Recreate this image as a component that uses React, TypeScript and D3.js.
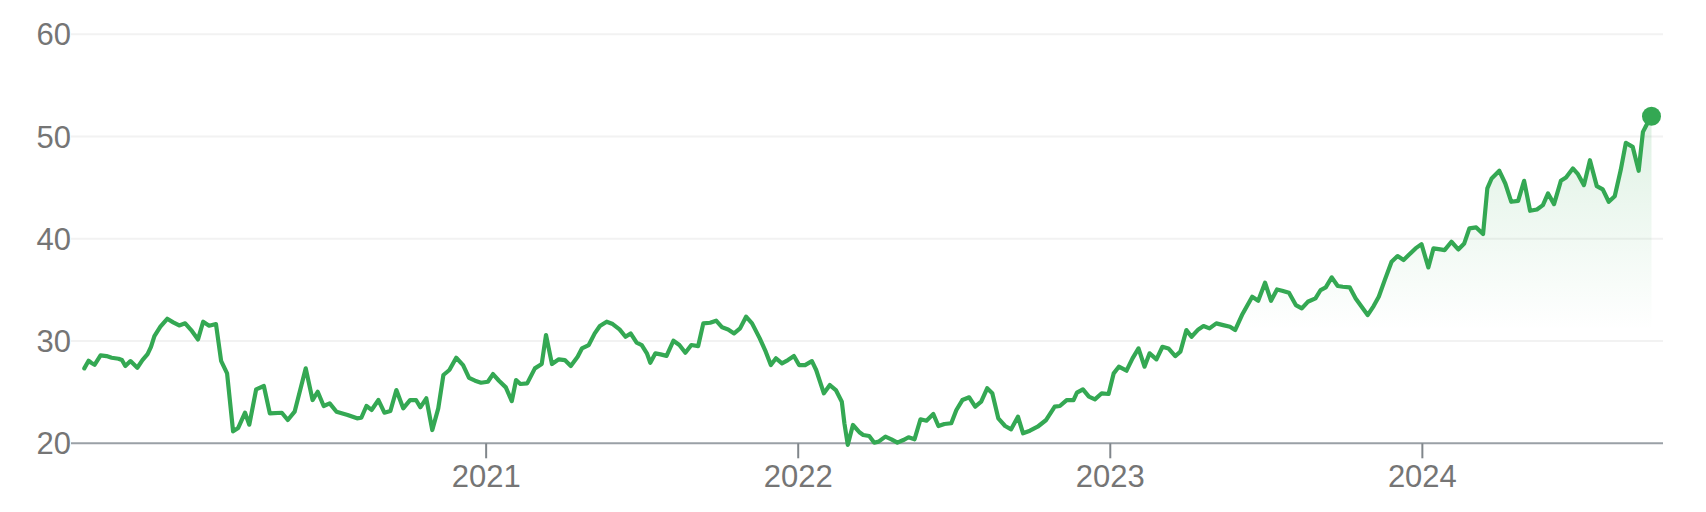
import React from "react";
import * as d3 from "d3";

const dates: string[] = [
  "2019-09-19","2019-09-24","2019-09-27","2019-10-01","2019-10-08","2019-10-15","2019-10-21","2019-10-29","2019-11-02","2019-11-06",
  "2019-11-12","2019-11-20","2019-11-26","2019-12-02","2019-12-06","2019-12-10","2019-12-17","2019-12-25","2020-01-01","2020-01-08",
  "2020-01-15","2020-01-22","2020-01-30","2020-02-05","2020-02-12","2020-02-20","2020-02-26","2020-03-04","2020-03-11","2020-03-17",
  "2020-03-25","2020-03-30","2020-04-07","2020-04-16","2020-04-23","2020-05-07","2020-05-14","2020-05-22","2020-06-04","2020-06-12",
  "2020-06-18","2020-06-25","2020-07-02","2020-07-10","2020-07-23","2020-08-03","2020-08-08","2020-08-14","2020-08-20","2020-08-28",
  "2020-09-04","2020-09-11","2020-09-18","2020-09-26","2020-10-04","2020-10-11","2020-10-16","2020-10-23","2020-10-30","2020-11-06",
  "2020-11-12","2020-11-19","2020-11-27","2020-12-05","2020-12-12","2020-12-19","2020-12-26","2021-01-03","2021-01-09","2021-01-16",
  "2021-01-24","2021-01-31","2021-02-05","2021-02-10","2021-02-18","2021-02-27","2021-03-07","2021-03-12","2021-03-19","2021-03-27",
  "2021-04-03","2021-04-10","2021-04-18","2021-04-23","2021-05-01","2021-05-08","2021-05-14","2021-05-22","2021-05-29","2021-06-06",
  "2021-06-13","2021-06-19","2021-06-26","2021-07-02","2021-07-08","2021-07-12","2021-07-18","2021-07-24","2021-07-31","2021-08-08",
  "2021-08-15","2021-08-22","2021-08-29","2021-09-06","2021-09-12","2021-09-20","2021-09-27","2021-10-04","2021-10-11","2021-10-18",
  "2021-10-25","2021-11-01","2021-11-08","2021-11-17","2021-11-24","2021-11-30","2021-12-06","2021-12-13","2021-12-20","2021-12-27",
  "2022-01-02","2022-01-09","2022-01-17","2022-01-22","2022-01-31","2022-02-07","2022-02-14","2022-02-21","2022-02-24","2022-02-28",
  "2022-03-06","2022-03-14","2022-03-18","2022-03-25","2022-03-31","2022-04-05","2022-04-13","2022-04-20","2022-04-27","2022-05-04",
  "2022-05-10","2022-05-17","2022-05-24","2022-05-31","2022-06-08","2022-06-14","2022-06-21","2022-06-29","2022-07-05","2022-07-12",
  "2022-07-20","2022-07-27","2022-08-03","2022-08-10","2022-08-16","2022-08-23","2022-08-31","2022-09-07","2022-09-15","2022-09-21",
  "2022-09-29","2022-10-08","2022-10-18","2022-10-28","2022-11-03","2022-11-11","2022-11-19","2022-11-23","2022-11-30","2022-12-07",
  "2022-12-14","2022-12-22","2022-12-30","2023-01-05","2023-01-11","2023-01-20","2023-01-27","2023-02-03","2023-02-10","2023-02-16",
  "2023-02-24","2023-03-03","2023-03-10","2023-03-18","2023-03-24","2023-03-31","2023-04-06","2023-04-14","2023-04-20","2023-04-27",
  "2023-05-05","2023-05-13","2023-05-21","2023-05-27","2023-06-04","2023-06-16","2023-06-23","2023-07-01","2023-07-08","2023-07-15",
  "2023-07-21","2023-07-29","2023-08-06","2023-08-13","2023-08-20","2023-08-29","2023-09-04","2023-09-10","2023-09-17","2023-09-24",
  "2023-09-30","2023-10-08","2023-10-15","2023-10-22","2023-10-29","2023-11-05","2023-11-11","2023-11-18","2023-11-26","2023-12-03",
  "2023-12-10","2023-12-16","2023-12-24","2023-12-31","2024-01-08","2024-01-14","2024-01-22","2024-01-27","2024-02-04","2024-02-12",
  "2024-02-19","2024-02-25","2024-03-04","2024-03-12","2024-03-17","2024-03-22","2024-03-31","2024-04-07","2024-04-14","2024-04-22",
  "2024-04-29","2024-05-06","2024-05-14","2024-05-21","2024-05-27","2024-06-03","2024-06-11","2024-06-17","2024-06-25","2024-07-01",
  "2024-07-08","2024-07-15","2024-07-23","2024-07-30","2024-08-06","2024-08-13","2024-08-20","2024-08-26","2024-09-03","2024-09-10",
  "2024-09-15","2024-09-19","2024-09-25",
];

const values: number[] = [
  27.33,28.07,27.88,27.68,28.6,28.53,28.37,28.27,28.14,27.56,
  28.04,27.39,28.14,28.73,29.44,30.49,31.4,32.18,31.83,31.53,
  31.73,31.07,30.16,31.89,31.5,31.66,28.07,26.84,21.17,21.5,
  22.99,21.82,25.28,25.6,22.93,22.99,22.28,23.09,27.33,24.23,
  25.04,23.65,23.91,23.09,22.77,22.44,22.5,23.65,23.26,24.23,
  22.99,23.16,25.21,23.42,24.23,24.23,23.52,24.4,21.3,23.42,
  26.68,27.17,28.37,27.65,26.4,26.12,25.92,26.02,26.77,26.12,
  25.47,24.13,26.19,25.8,25.86,27.33,27.75,30.59,27.75,28.21,
  28.14,27.56,28.47,29.28,29.61,30.75,31.47,31.89,31.66,31.14,
  30.42,30.75,29.84,29.61,28.8,27.88,28.8,28.7,28.55,30.03,
  29.61,28.86,29.61,29.51,31.73,31.79,31.99,31.34,31.14,30.75,
  31.24,32.38,31.73,30.26,28.96,27.65,28.31,27.82,28.14,28.53,
  27.65,27.65,28.04,27.17,24.89,25.7,25.21,24.07,21.96,19.85,
  21.79,21.05,20.81,20.71,20.06,20.16,20.65,20.39,20.06,20.32,
  20.59,20.39,22.35,22.21,22.86,21.69,21.89,21.96,23.26,24.23,
  24.5,23.58,24.07,25.38,24.89,22.44,21.69,21.37,22.6,20.98,
  21.23,21.62,22.28,23.58,23.65,24.23,24.23,24.95,25.28,24.56,
  24.3,24.89,24.82,26.84,27.49,27.1,28.31,29.28,27.49,28.8,
  28.21,29.44,29.28,28.53,28.96,31.07,30.42,31.14,31.47,31.24,
  31.73,31.56,31.4,31.07,32.54,34.33,33.94,35.7,33.94,35.05,
  34.92,34.72,33.52,33.19,33.84,34.17,34.99,35.25,36.23,35.38,
  35.31,35.25,34.17,33.35,32.54,33.42,34.33,35.96,37.75,38.31,
  37.92,38.41,39.06,39.48,37.2,39.06,38.96,38.9,39.71,38.96,
  39.55,41.02,41.11,40.46,44.93,45.9,46.65,45.41,43.62,43.71,
  45.67,42.74,42.87,43.29,44.44,43.39,45.67,46.0,46.88,46.32,
  45.25,47.69,45.15,44.83,43.62,44.17,46.72,49.38,48.99,46.65,
  50.46,51.11,51.99,
];

const yTicks: number[] = [20, 30, 40, 50, 60];
const yearTicks: string[] = ["2021", "2022", "2023", "2024"];

const W = 1706;
const H = 512;
const FONT = "'Liberation Sans', Arial, Helvetica, sans-serif";

export default function App() {
  const parse = d3.timeParse("%Y-%m-%d");
  const data = dates.map((d, i) => ({ date: parse(d) as Date, value: values[i] }));

  const plotLeft = 71;
  const plotRight = 1663;

  const x = d3
    .scaleTime()
    .domain(d3.extent(data, (d) => d.date) as [Date, Date])
    .range([84.3, 1651.5]);
  const y = d3.scaleLinear().domain([20, 60]).range([443.3, 34.3]);

  const line = d3
    .line<{ date: Date; value: number }>()
    .x((d) => x(d.date))
    .y((d) => y(d.value));
  const area = d3
    .area<{ date: Date; value: number }>()
    .x((d) => x(d.date))
    .y0(y(31))
    .y1((d) => y(d.value));

  const last = data[data.length - 1];
  const gradTop = y(52);
  const gradBottom = y(31);

  return (
    <svg
      width={W}
      height={H}
      style={{ position: "absolute", left: 0, top: 0, background: "#fff" }}
      fontFamily={FONT}
    >
      <defs>
        <linearGradient id="fillGrad" gradientUnits="userSpaceOnUse" x1={0} x2={0} y1={gradTop} y2={gradBottom}>
          <stop offset="0%" stopColor="#34a853" stopOpacity={0.16} />
          <stop offset="100%" stopColor="#34a853" stopOpacity={0} />
        </linearGradient>
      </defs>
      {yTicks
        .filter((t) => t !== 20)
        .map((t) => (
          <line key={"g" + t} x1={plotLeft} x2={plotRight} y1={y(t)} y2={y(t)} stroke="#f2f2f2" strokeWidth={2} />
        ))}
      {yTicks.map((t) => (
        <text
          key={"yl" + t}
          x={plotLeft}
          y={y(t)}
          dy="0.36em"
          textAnchor="end"
          fontSize={31}
          fill="#757575"
        >
          {t}
        </text>
      ))}
      <path d={area(data) || ""} fill="url(#fillGrad)" />
      <line x1={plotLeft} x2={plotRight} y1={y(20)} y2={y(20)} stroke="#9aa0a6" strokeWidth={2} />
      {yearTicks.map((yr) => {
        const tx = x(new Date(+yr, 0, 1));
        return (
          <g key={"yr" + yr}>
            <line x1={tx} x2={tx} y1={y(20)} y2={y(20) + 15} stroke="#80868b" strokeWidth={2} />
            <text x={tx} y={487} textAnchor="middle" fontSize={31} fill="#757575">
              {yr}
            </text>
          </g>
        );
      })}
      <path
        d={line(data) || ""}
        fill="none"
        stroke="#34a853"
        strokeWidth={4.2}
        strokeLinejoin="round"
        strokeLinecap="round"
      />
      <circle cx={x(last.date)} cy={y(last.value)} r={9.5} fill="#34a853" />
    </svg>
  );
}
